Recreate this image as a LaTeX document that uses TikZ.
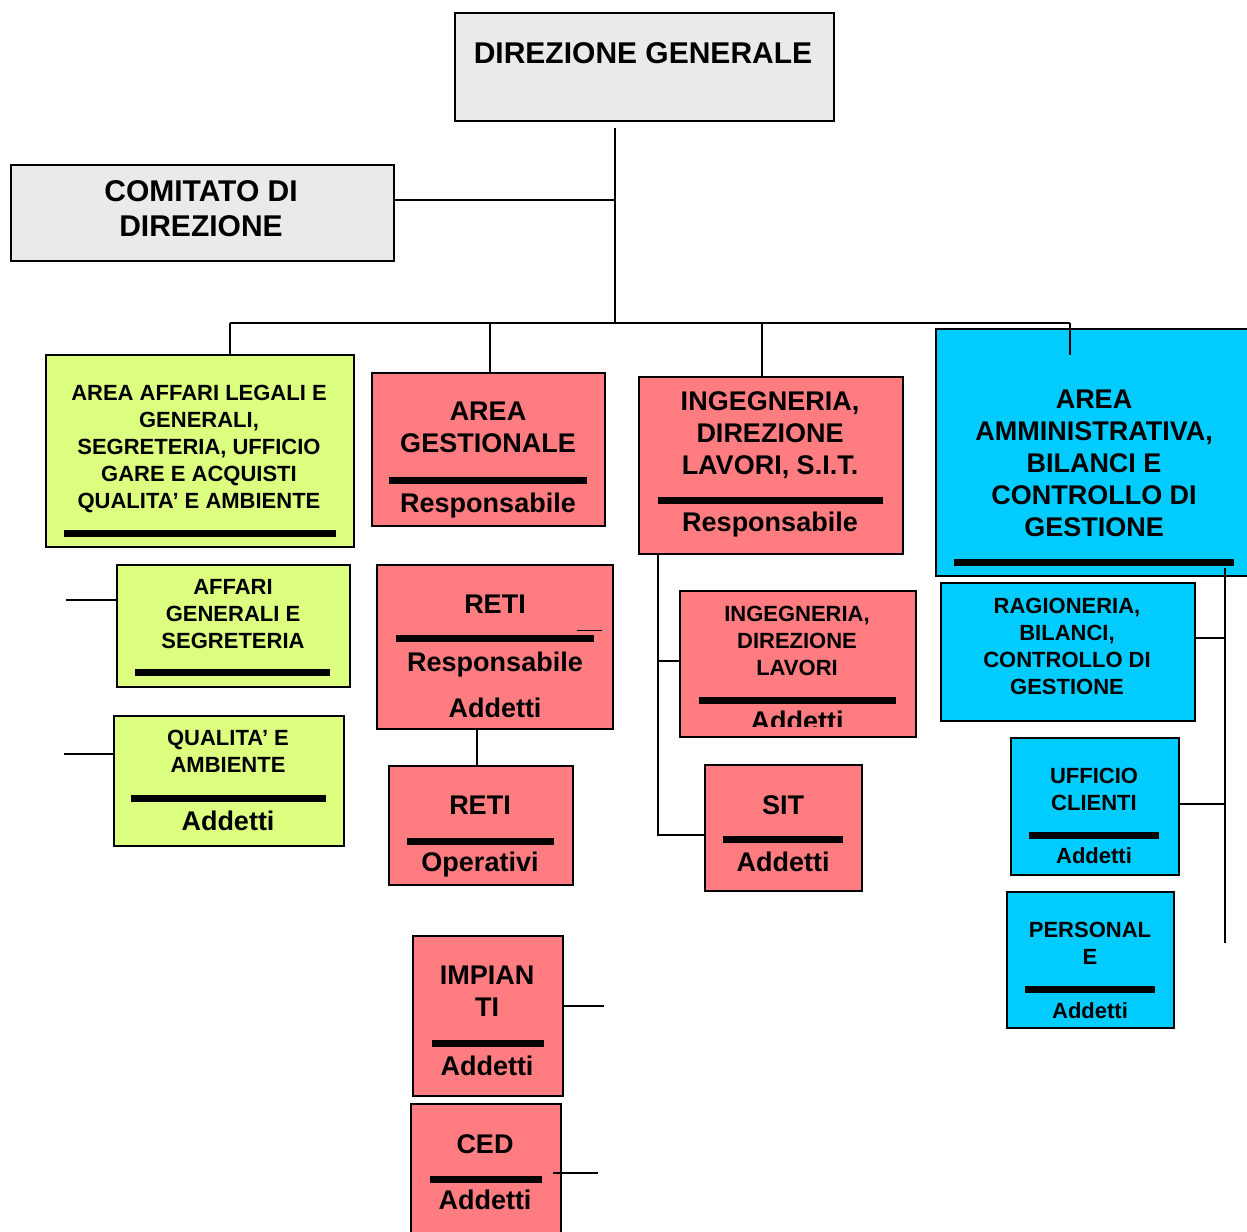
\documentclass[tikz,border=0pt]{standalone}
\usepackage{fontspec}
\setmainfont{Liberation Sans}
\definecolor{grigio}{HTML}{EAEAEA}
\definecolor{verde}{HTML}{DDFF80}
\definecolor{rosso}{HTML}{FF7C80}
\definecolor{azzurro}{HTML}{00CCFF}
\tikzset{
  box/.style={draw, line width=1pt, anchor=north west, inner sep=0pt},
  txt/.style={anchor=north, inner sep=0pt, align=center},
  big/.style={font=\fontsize{15}{17.5}\selectfont\bfseries},
  mid/.style={font=\fontsize{13.5}{16}\selectfont\bfseries},
  sml/.style={font=\fontsize{11}{13.5}\selectfont\bfseries},
  bar/.style={line width=3.5pt},
  link/.style={line width=0.9pt}
}
\begin{document}
\begin{tikzpicture}[x=0.5pt,y=-0.5pt]
  \useasboundingbox (0,0) rectangle (1247,1231);
  % boxes
  \node[box, fill=grigio, minimum width=189.5pt, minimum height=54pt] (dg) at (454,12) {};
  \node[box, fill=grigio, minimum width=191.5pt, minimum height=48pt] (cd) at (10,164) {};
  \node[box, fill=verde, minimum width=154pt, minimum height=96pt] (legali) at (45,354) {};
  \node[box, fill=rosso, minimum width=116.5pt, minimum height=76.5pt] (gest) at (371,372) {};
  \node[box, fill=rosso, minimum width=132pt, minimum height=88.5pt] (ing) at (638,376) {};
  \node[box, fill=azzurro, minimum width=157.5pt, minimum height=123.5pt] (amm) at (935,328) {};
  \node[box, fill=verde, minimum width=116.5pt, minimum height=61pt] (affari) at (116,564) {};
  \node[box, fill=verde, minimum width=115pt, minimum height=65pt] (qual) at (113,715) {};
  \node[box, fill=rosso, minimum width=118pt, minimum height=82pt] (retiR) at (376,564) {};
  \node[box, fill=rosso, minimum width=92pt, minimum height=59.5pt] (retiO) at (388,765) {};
  \node[box, fill=rosso, minimum width=118pt, minimum height=73pt] (ingdl) at (679,590) {};
  \node[box, fill=rosso, minimum width=78.5pt, minimum height=63pt] (sit) at (704,764) {};
  \node[box, fill=azzurro, minimum width=127pt, minimum height=69pt] (rag) at (940,582) {};
  \node[box, fill=azzurro, minimum width=84pt, minimum height=68.5pt] (uff) at (1010,737) {};
  \node[box, fill=azzurro, minimum width=83.5pt, minimum height=68pt] (pers) at (1006,891) {};
  \node[box, fill=rosso, minimum width=75pt, minimum height=80pt] (imp) at (412,935) {};
  \node[box, fill=rosso, minimum width=75pt, minimum height=68.5pt] (ced) at (410,1103) {};

  % texts
  \node[txt, big] (dg-t) at (643,42) {DIREZIONE GENERALE};
  \node[txt, big] (cd-t) at (201,180) {COMITATO DI\\DIREZIONE};
  \node[txt, sml] (legali-t) at (199,385) {AREA AFFARI LEGALI E\\GENERALI,\\SEGRETERIA, UFFICIO\\GARE E ACQUISTI\\QUALITA’ E AMBIENTE};
  \node[txt, mid] (gest-t) at (488,402) {AREA\\GESTIONALE};
  \node[txt, mid] (gest-r) at (488,493) {Responsabile};
  \node[txt, mid] (ing-t) at (770,391) {INGEGNERIA,\\DIREZIONE\\LAVORI, S.I.T.};
  \node[txt, mid] (ing-r) at (770,512) {Responsabile};
  \node[txt, mid] (amm-t) at (1094,390) {AREA\\AMMINISTRATIVA,\\BILANCI E\\CONTROLLO DI\\GESTIONE};
  \node[txt, sml] (affari-t) at (233,579) {AFFARI\\GENERALI E\\SEGRETERIA};
  \node[txt, sml] (qual-t) at (228,730) {QUALITA’ E\\AMBIENTE};
  \node[txt, mid] (qual-a) at (228,811) {Addetti};
  \node[txt, mid] (retiR-t) at (495,595) {RETI};
  \node[txt, mid] (retiR-r) at (495,652) {Responsabile};
  \node[txt, mid] (retiR-a) at (495,698) {Addetti};
  \node[txt, mid] (retiO-t) at (480,796) {RETI};
  \node[txt, mid] (retiO-o) at (480,852) {Operativi};
  \node[txt, sml] (ingdl-t) at (797,606) {INGEGNERIA,\\DIREZIONE\\LAVORI};
  \begin{scope}
    \clip (679,590) rectangle (915,726);
    \node[txt, mid] (ingdl-a) at (797,711) {Addetti};
  \end{scope}
  \node[txt, mid] (sit-t) at (783,795) {SIT};
  \node[txt, mid] (sit-a) at (783,852) {Addetti};
  \node[txt, sml] (rag-t) at (1067,598) {RAGIONERIA,\\BILANCI,\\CONTROLLO DI\\GESTIONE};
  \node[txt, sml] (uff-t) at (1094,768) {UFFICIO\\CLIENTI};
  \node[txt, sml] (uff-a) at (1094,847) {Addetti};
  \node[txt, sml] (pers-t) at (1090,922) {PERSONAL\\E};
  \node[txt, sml] (pers-a) at (1090,1002) {Addetti};
  \node[txt, mid] (imp-t) at (487,966) {IMPIAN\\TI};
  \node[txt, mid] (imp-a) at (487,1056) {Addetti};
  \node[txt, mid] (ced-t) at (485,1134) {CED};
  \node[txt, mid] (ced-a) at (485,1190) {Addetti};

  % bars
  \draw[bar] (64,533) -- (336,533);
  \draw[bar] (389,480) -- (587,480);
  \draw[bar] (658,500) -- (883,500);
  \draw[bar] (954,562) -- (1234,562);
  \draw[bar] (135,672) -- (330,672);
  \draw[bar] (131,798) -- (326,798);
  \draw[bar] (396,638) -- (594,638);
  \draw[bar] (407,841) -- (554,841);
  \draw[bar] (699,700) -- (896,700);
  \draw[bar] (723,839) -- (843,839);
  \draw[bar] (1029,835) -- (1159,835);
  \draw[bar] (1025,989) -- (1155,989);
  \draw[bar] (432,1043) -- (544,1043);
  \draw[bar] (430,1179) -- (542,1179);

  % junctions
  \coordinate (tr1) at (615,128);
  \coordinate (tr2) at (615,200);
  \coordinate (tr3) at (615,323);
  \coordinate (bus1) at (230,323);
  \coordinate (bus2) at (490,323);
  \coordinate (bus3) at (762,323);
  \coordinate (bus4) at (1070,323);
  \coordinate (amm-in) at (1070,355);
  \coordinate (aff-s) at (66,600);
  \coordinate (qual-s) at (64,754);
  \coordinate (rr) at (477,745);
  \coordinate (rx1) at (577,630);
  \coordinate (rx2) at (602,630);
  \coordinate (ingv) at (658,661);
  \coordinate (sit-s) at (658,835);
  \coordinate (ammv) at (1225,568);
  \coordinate (ammv-e) at (1225,943);
  \coordinate (rag-s) at (1225,638);
  \coordinate (uff-s) at (1225,804);
  \coordinate (imp-s) at (604,1006);
  \coordinate (ced-s0) at (553,1173);
  \coordinate (ced-s) at (598,1173);

  % connectors
  \draw[link] (tr1) -- (tr3);
  \draw[link] (cd.east |- tr2) -- (tr2);
  \draw[link] (bus1) -- (bus4);
  \draw[link] (bus1) -- (legali.north -| bus1);
  \draw[link] (bus2) -- (gest.north -| bus2);
  \draw[link] (bus3) -- (ing.north -| bus3);
  \draw[link] (bus4) -- (amm-in);
  \draw[link] (aff-s) -- (affari.west |- aff-s);
  \draw[link] (qual-s) -- (qual.west |- qual-s);
  \draw[link] (retiR.south -| rr) -- (retiO.north -| rr);
  \draw[thin] (rx1) -- (rx2);
  \draw[link] (ing.south -| ingv) -- (sit-s) -- (sit.west |- sit-s);
  \draw[link] (ingv) -- (ingdl.west |- ingv);
  \draw[link] (ammv) -- (ammv-e);
  \draw[link] (rag.east |- rag-s) -- (rag-s);
  \draw[link] (uff.east |- uff-s) -- (uff-s);
  \draw[link] (imp.east |- imp-s) -- (imp-s);
  \draw[link] (ced-s0) -- (ced-s);
\end{tikzpicture}
\end{document}
